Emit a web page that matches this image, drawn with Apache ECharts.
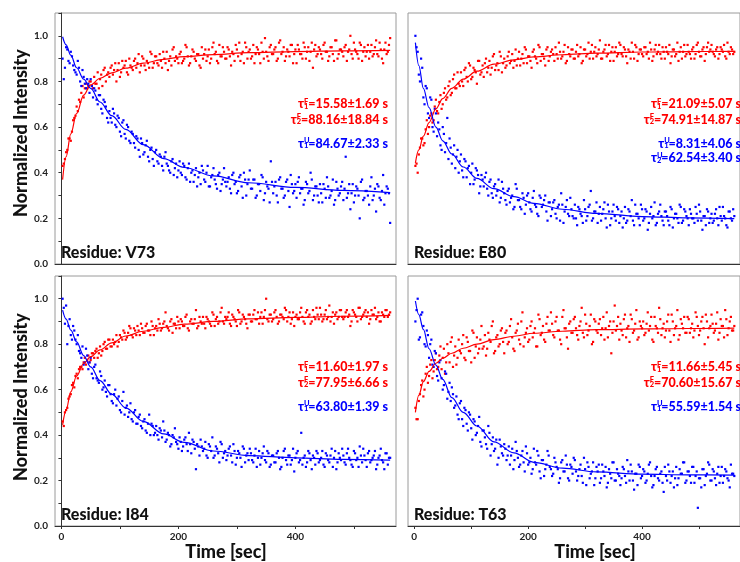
<!DOCTYPE html>
<html>
<head>
<meta charset="utf-8">
<script src="https://cdn.jsdelivr.net/npm/echarts@6/dist/echarts.min.js"></script>
<style>html,body{margin:0;padding:0;background:#fff}#chart{width:740px;height:562px}</style>
</head>
<body>
<div id="chart"></div>
<script>
const FONT = 'Lato, "Noto Sans", sans-serif';
const RED = '#ff0000';
const BLUE = '#0000ff';

// sample times of the measured points (sec), two interleaved sets
const times = [
  2,6,10,14,18,22,26,30,34,38,
  42,46,50,54,58,62,66,70,74,78,
  82,86,90,94,98,102,106,110,114,118,
  122,126,130,134,138,142,146,150,154,158,
  162,166,170,174,178,182,186,190,194,198,
  202,206,210,214,218,222,226,230,234,238,
  242,246,250,254,258,262,266,270,274,278,
  282,286,290,294,298,302,306,310,314,318,
  322,326,330,334,338,342,346,350,354,358,
  362,366,370,374,378,382,386,390,394,398,
  402,406,410,414,418,422,426,430,434,438,
  442,446,450,454,458,462,466,470,474,478,
  482,486,490,494,498,502,506,510,514,518,
  522,526,530,534,538,542,546,550,554,558,
  562
];
const timesB = [
  4,8,12,16,20,24,28,32,36,40,
  44,48,52,56,60,64,68,72,76,80,
  84,88,92,96,100,104,108,112,116,120,
  124,128,132,136,140,144,148,152,156,160,
  164,168,172,176,180,184,188,192,196,200,
  204,208,212,216,220,224,228,232,236,240,
  244,248,252,256,260,264,268,272,276,280,
  284,288,292,296,300,304,308,312,316,320,
  324,328,332,336,340,344,348,352,356,360,
  364,368,372,376,380,384,388,392,396,400,
  404,408,412,416,420,424,428,432,436,440,
  444,448,452,456,460,464,468,472,476,480,
  484,488,492,496,500,504,508,512,516,520,
  524,528,532,536,540,544,548,552,556,560
];
// times where the fitted curves are read
const fitTimes = [2, 8, 16, 26, 38, 50, 66, 86, 110, 140, 175, 210, 260, 320, 400, 480, 562];

const residues = ['Residue: V73', 'Residue: E80', 'Residue: I84', 'Residue: T63'];
const xLabelValues = [0, 200, 400];
const xTickValues = [0, 100, 200, 300, 400, 500];
const yLabelValues = [0, 0.2, 0.4, 0.6, 0.8, 1.0];
const yTickValues = [0, 0.1, 0.2, 0.3, 0.4, 0.5, 0.6, 0.7, 0.8, 0.9, 1.0, 1.1];

// V73
const v73F = [
  0.43,0.46,0.50,0.55,0.58,0.64,0.69,0.72,0.75,0.73,
  0.79,0.78,0.80,0.77,0.79,0.84,0.81,0.78,0.86,0.83,
  0.82,0.87,0.85,0.80,0.88,0.84,0.86,0.89,0.83,0.87,
  0.85,0.90,0.88,0.84,0.91,0.87,0.89,0.86,0.92,0.88,
  0.91,0.87,0.89,0.93,0.88,0.85,0.91,0.94,0.89,0.90,
  0.92,0.88,0.90,0.95,0.87,0.91,0.93,0.89,0.92,0.86,
  0.90,0.94,0.91,0.88,0.95,0.92,0.89,0.96,0.91,0.93,
  0.90,0.94,0.87,0.92,0.96,0.91,0.89,0.93,0.97,0.90,
  0.94,0.91,0.88,0.95,0.92,0.97,0.90,0.93,0.89,0.96,
  0.92,0.95,0.90,0.98,0.93,0.89,0.94,0.91,0.96,0.92,
  0.88,0.94,0.92,0.97,0.90,0.95,0.93,0.86,0.96,0.92,
  0.94,0.90,0.97,0.93,0.91,0.95,0.89,0.98,0.92,0.94,
  0.91,0.96,0.93,1.00,0.90,0.94,0.92,0.97,0.89,0.95,
  0.93,0.90,0.96,0.92,0.98,0.91,0.94,0.88,0.97,0.93,
  0.99
];
const v73FB = [
  0.44,0.49,0.55,0.54,0.63,0.65,0.67,0.71,0.78,0.77,
  0.77,0.80,0.78,0.82,0.79,0.77,0.83,0.85,0.80,0.84,
  0.86,0.83,0.88,0.85,0.82,0.89,0.87,0.84,0.90,0.86,
  0.89,0.86,0.92,0.87,0.90,0.85,0.88,0.93,0.86,0.91,
  0.88,0.92,0.86,0.90,0.93,0.89,0.87,0.95,0.91,0.88,
  0.93,0.89,0.96,0.91,0.88,0.94,0.90,0.92,0.87,0.95,
  0.92,0.89,0.94,0.90,0.97,0.93,0.88,0.91,0.95,0.90,
  0.95,0.91,0.93,0.89,0.94,0.97,0.92,0.88,0.95,0.93,
  0.90,0.96,0.92,0.94,0.88,0.93,0.99,0.91,0.95,0.92,
  0.94,0.89,0.97,0.92,0.95,0.91,0.93,0.96,0.88,0.94,
  0.96,0.92,0.90,0.95,0.93,0.89,0.97,0.94,0.91,0.95,
  0.92,0.96,0.93,0.89,0.95,0.92,0.98,0.90,0.94,0.93,
  0.95,0.89,0.94,0.92,0.97,0.93,0.90,0.96,0.93,0.91,
  0.96,0.93,0.91,0.95,0.92,0.97,0.90,0.94,0.92,0.96
];
const v73U = [
  0.90,0.86,0.94,0.88,0.91,0.85,0.83,0.86,0.78,0.82,
  0.77,0.79,0.81,0.73,0.76,0.70,0.74,0.66,0.71,0.64,
  0.67,0.62,0.66,0.60,0.64,0.56,0.63,0.55,0.60,0.53,
  0.57,0.51,0.55,0.47,0.53,0.49,0.54,0.45,0.51,0.43,
  0.50,0.44,0.47,0.41,0.49,0.43,0.40,0.46,0.42,0.38,
  0.45,0.39,0.43,0.37,0.44,0.40,0.36,0.42,0.38,0.35,
  0.41,0.36,0.43,0.34,0.39,0.37,0.33,0.40,0.35,0.42,
  0.34,0.38,0.31,0.40,0.36,0.32,0.39,0.29,0.37,0.35,
  0.41,0.33,0.37,0.30,0.35,0.39,0.28,0.36,0.33,0.45,
  0.31,0.36,0.27,0.38,0.33,0.30,0.37,0.25,0.35,0.32,
  0.29,0.38,0.33,0.26,0.36,0.31,0.40,0.28,0.34,0.30,
  0.35,0.27,0.33,0.38,0.29,0.32,0.26,0.36,0.30,0.34,
  0.28,0.47,0.31,0.24,0.35,0.30,0.33,0.20,0.37,0.29,
  0.32,0.26,0.38,0.30,0.23,0.34,0.28,0.39,0.31,0.33,
  0.18
];
const v73UB = [
  0.81,0.95,0.89,0.93,0.87,0.84,0.89,0.80,0.85,0.79,
  0.81,0.75,0.78,0.77,0.72,0.74,0.68,0.72,0.69,0.62,
  0.64,0.68,0.61,0.65,0.58,0.62,0.57,0.61,0.54,0.58,
  0.53,0.56,0.50,0.55,0.48,0.52,0.47,0.50,0.46,0.49,
  0.45,0.48,0.43,0.47,0.44,0.41,0.45,0.39,0.44,0.41,
  0.40,0.44,0.38,0.42,0.36,0.41,0.39,0.34,0.40,0.43,
  0.37,0.40,0.34,0.38,0.42,0.35,0.39,0.32,0.37,0.36,
  0.36,0.33,0.39,0.35,0.31,0.38,0.34,0.40,0.30,0.37,
  0.33,0.37,0.29,0.35,0.32,0.38,0.31,0.34,0.27,0.36,
  0.34,0.30,0.37,0.33,0.29,0.36,0.32,0.39,0.31,0.35,
  0.36,0.31,0.33,0.28,0.35,0.32,0.37,0.30,0.34,0.27,
  0.31,0.35,0.29,0.34,0.30,0.37,0.28,0.33,0.31,0.36,
  0.33,0.29,0.35,0.31,0.27,0.34,0.30,0.36,0.28,0.32,
  0.30,0.34,0.28,0.33,0.35,0.29,0.32,0.26,0.34,0.31
];
const v73FitF = [0.37,0.47,0.57,0.66,0.74,0.785,0.814,0.838,0.858,0.88,0.897,0.909,0.918,0.926,0.931,0.934,0.936];
const v73FitU = [0.996,0.96,0.915,0.86,0.81,0.77,0.71,0.65,0.59,0.523,0.462,0.423,0.386,0.356,0.336,0.323,0.313];

// E80
const e80F = [
  0.43,0.40,0.51,0.55,0.53,0.63,0.60,0.66,0.63,0.72,
  0.66,0.74,0.70,0.77,0.73,0.80,0.75,0.83,0.77,0.79,
  0.84,0.78,0.86,0.80,0.87,0.82,0.85,0.79,0.89,0.84,
  0.82,0.90,0.86,0.83,0.91,0.85,0.88,0.93,0.84,0.90,
  0.87,0.93,0.89,0.86,0.94,0.90,0.87,0.92,0.95,0.88,
  0.91,0.86,0.94,0.90,0.96,0.89,0.92,0.87,0.95,0.91,
  0.94,0.89,0.92,0.97,0.90,0.93,0.88,0.95,0.91,0.94,
  0.90,0.96,0.92,0.88,0.94,0.91,0.97,0.93,0.90,0.95,
  0.92,0.98,0.90,0.94,0.91,0.96,0.93,0.89,0.95,0.92,
  0.96,0.91,0.94,0.88,0.93,0.97,0.90,0.95,0.92,0.94,
  0.91,0.95,0.93,0.97,0.89,0.94,0.92,0.96,0.90,0.93,
  0.95,0.92,0.88,0.94,0.91,0.97,0.93,0.90,0.96,0.92,
  0.93,0.90,0.95,0.92,0.97,0.91,0.94,0.89,0.95,0.93,
  0.96,0.92,0.94,0.90,0.95,0.93,0.91,0.97,0.92,0.94,
  0.93
];
const e80FB = [
  0.44,0.48,0.55,0.52,0.59,0.57,0.65,0.62,0.69,0.67,
  0.71,0.68,0.75,0.72,0.78,0.74,0.81,0.77,0.84,0.78,
  0.80,0.85,0.82,0.88,0.81,0.86,0.84,0.89,0.83,0.87,
  0.88,0.84,0.89,0.86,0.92,0.87,0.85,0.91,0.88,0.86,
  0.91,0.88,0.92,0.89,0.87,0.93,0.90,0.88,0.94,0.91,
  0.89,0.93,0.91,0.88,0.95,0.92,0.90,0.94,0.89,0.93,
  0.92,0.95,0.90,0.93,0.91,0.96,0.89,0.92,0.94,0.90,
  0.93,0.91,0.95,0.89,0.94,0.92,0.90,0.96,0.93,0.91,
  0.94,0.90,0.93,0.96,0.92,0.89,0.95,0.93,0.91,0.97,
  0.92,0.95,0.91,0.94,0.90,0.93,0.96,0.89,0.94,0.92,
  0.95,0.92,0.90,0.94,0.91,0.96,0.93,0.92,0.95,0.90,
  0.93,0.96,0.91,0.94,0.92,0.89,0.95,0.93,0.91,0.96,
  0.92,0.94,0.90,0.96,0.93,0.91,0.95,0.92,0.97,0.94,
  0.93,0.91,0.95,0.92,0.94,0.96,0.90,0.93,0.95,0.92
];
const e80U = [
  1.00,0.93,0.80,0.86,0.70,0.77,0.64,0.72,0.58,0.66,
  0.62,0.52,0.60,0.49,0.64,0.55,0.44,0.52,0.47,0.40,
  0.48,0.38,0.45,0.42,0.35,0.44,0.37,0.41,0.31,0.39,
  0.34,0.40,0.30,0.37,0.29,0.35,0.32,0.27,0.36,0.31,
  0.26,0.33,0.29,0.24,0.35,0.28,0.25,0.31,0.22,0.30,
  0.27,0.23,0.32,0.25,0.21,0.29,0.26,0.30,0.19,0.27,
  0.24,0.28,0.20,0.26,0.31,0.18,0.25,0.22,0.29,0.21,
  0.26,0.17,0.24,0.21,0.28,0.19,0.25,0.32,0.20,0.23,
  0.18,0.25,0.22,0.27,0.16,0.23,0.20,0.26,0.19,0.24,
  0.21,0.16,0.25,0.19,0.23,0.28,0.17,0.22,0.20,0.26,
  0.19,0.24,0.15,0.22,0.20,0.27,0.18,0.23,0.21,0.17,
  0.23,0.19,0.25,0.16,0.22,0.20,0.26,0.18,0.24,0.21,
  0.17,0.22,0.20,0.25,0.19,0.23,0.15,0.21,0.24,0.18,
  0.22,0.19,0.24,0.17,0.21,0.25,0.20,0.16,0.23,0.19,
  0.21
];
const e80UB = [
  0.95,0.83,0.90,0.73,0.78,0.66,0.73,0.60,0.68,0.56,
  0.59,0.50,0.57,0.53,0.46,0.51,0.48,0.42,0.50,0.45,
  0.41,0.46,0.38,0.43,0.40,0.35,0.42,0.39,0.34,0.37,
  0.38,0.33,0.36,0.31,0.34,0.30,0.37,0.29,0.33,0.28,
  0.32,0.27,0.30,0.25,0.33,0.28,0.24,0.29,0.26,0.31,
  0.24,0.29,0.26,0.22,0.30,0.25,0.28,0.23,0.27,0.21,
  0.27,0.22,0.25,0.19,0.26,0.23,0.28,0.21,0.24,0.20,
  0.20,0.25,0.22,0.18,0.24,0.21,0.26,0.19,0.23,0.27,
  0.22,0.19,0.24,0.20,0.26,0.17,0.23,0.21,0.25,0.18,
  0.23,0.20,0.18,0.24,0.21,0.19,0.26,0.22,0.17,0.24,
  0.20,0.23,0.18,0.25,0.21,0.17,0.22,0.26,0.19,0.23,
  0.21,0.17,0.24,0.20,0.22,0.18,0.25,0.19,0.23,0.20,
  0.24,0.20,0.18,0.22,0.26,0.19,0.21,0.17,0.23,0.20,
  0.18,0.22,0.20,0.25,0.19,0.21,0.17,0.23,0.20,0.24
];
const e80FitF = [0.443,0.50,0.56,0.62,0.68,0.725,0.77,0.81,0.845,0.876,0.895,0.908,0.917,0.924,0.929,0.931,0.932];
const e80FitU = [0.97,0.87,0.77,0.685,0.60,0.54,0.482,0.425,0.375,0.33,0.295,0.266,0.24,0.222,0.208,0.202,0.199];

// I84
const i84F = [
  0.46,0.50,0.52,0.57,0.62,0.61,0.67,0.69,0.70,0.72,
  0.71,0.75,0.73,0.76,0.77,0.74,0.79,0.77,0.81,0.78,
  0.82,0.79,0.80,0.84,0.81,0.83,0.86,0.82,0.85,0.87,
  0.83,0.86,0.88,0.84,0.87,0.85,0.89,0.86,0.90,0.84,
  0.88,0.91,0.86,0.89,0.94,0.87,0.90,0.85,0.89,0.92,
  0.87,0.90,0.88,0.93,0.86,0.91,0.89,0.95,0.88,0.90,
  0.92,0.87,0.91,0.89,0.94,0.88,0.92,0.90,0.96,0.89,
  0.91,0.94,0.88,0.92,0.90,0.95,0.89,0.93,0.91,0.87,
  0.93,0.90,0.95,0.91,0.89,0.94,0.92,1.00,0.90,0.93,
  0.91,0.95,0.89,0.93,0.92,0.96,0.90,0.94,0.91,0.88,
  0.93,0.91,0.96,0.90,0.94,0.92,0.89,0.95,0.91,0.93,
  0.96,0.90,0.93,0.91,0.97,0.92,0.89,0.94,0.92,0.95,
  0.91,0.94,0.92,0.88,0.95,0.93,0.90,0.96,0.92,0.94,
  0.92,0.89,0.95,0.93,0.91,0.94,0.90,0.93,0.95,0.92,
  0.94
];
const i84FB = [
  0.44,0.51,0.56,0.58,0.63,0.66,0.65,0.70,0.69,0.74,
  0.73,0.72,0.76,0.74,0.78,0.76,0.75,0.80,0.78,0.82,
  0.79,0.82,0.81,0.79,0.84,0.82,0.85,0.83,0.88,0.84,
  0.87,0.84,0.86,0.89,0.85,0.88,0.86,0.84,0.88,0.87,
  0.86,0.89,0.87,0.90,0.88,0.86,0.91,0.89,0.87,0.90,
  0.91,0.88,0.92,0.87,0.90,0.89,0.91,0.87,0.92,0.89,
  0.89,0.92,0.90,0.88,0.93,0.91,0.89,0.94,0.90,0.92,
  0.92,0.89,0.93,0.91,0.88,0.94,0.90,0.92,0.89,0.93,
  0.90,0.93,0.91,0.94,0.92,0.89,0.95,0.91,0.93,0.90,
  0.94,0.92,0.90,0.93,0.91,0.95,0.92,0.89,0.94,0.92,
  0.91,0.94,0.92,0.89,0.95,0.93,0.90,0.92,0.96,0.91,
  0.93,0.91,0.95,0.92,0.90,0.94,0.93,0.91,0.95,0.92,
  0.92,0.95,0.93,0.90,0.94,0.92,0.96,0.91,0.93,0.95,
  0.94,0.91,0.93,0.96,0.92,0.90,0.94,0.92,0.95,0.93
];
const i84U = [
  1.00,0.89,0.80,0.91,0.82,0.86,0.80,0.77,0.74,0.71,
  0.78,0.69,0.74,0.65,0.71,0.64,0.68,0.60,0.64,0.57,
  0.62,0.55,0.58,0.53,0.57,0.50,0.59,0.52,0.48,0.54,
  0.46,0.51,0.45,0.49,0.43,0.47,0.41,0.49,0.45,0.40,
  0.44,0.38,0.42,0.46,0.37,0.41,0.35,0.40,0.43,0.36,
  0.39,0.33,0.38,0.36,0.41,0.32,0.37,0.25,0.35,0.38,
  0.33,0.37,0.30,0.35,0.39,0.31,0.34,0.28,0.36,0.32,
  0.29,0.34,0.31,0.36,0.27,0.33,0.30,0.35,0.28,0.32,
  0.34,0.29,0.31,0.26,0.33,0.30,0.35,0.28,0.32,0.27,
  0.31,0.28,0.33,0.25,0.30,0.34,0.27,0.31,0.29,0.24,
  0.32,0.28,0.41,0.30,0.26,0.33,0.29,0.31,0.27,0.32,
  0.29,0.33,0.26,0.31,0.28,0.34,0.30,0.25,0.32,0.29,
  0.31,0.27,0.34,0.29,0.26,0.32,0.30,0.35,0.28,0.31,
  0.26,0.33,0.29,0.31,0.25,0.30,0.34,0.28,0.32,0.27,
  0.30
];
const i84UB = [
  0.96,0.97,0.88,0.84,0.88,0.82,0.84,0.76,0.79,0.72,
  0.75,0.72,0.67,0.70,0.65,0.63,0.66,0.61,0.59,0.62,
  0.58,0.54,0.60,0.56,0.51,0.55,0.49,0.53,0.50,0.47,
  0.50,0.45,0.48,0.44,0.46,0.42,0.45,0.40,0.44,0.41,
  0.40,0.43,0.39,0.42,0.38,0.40,0.36,0.39,0.37,0.34,
  0.37,0.35,0.39,0.33,0.36,0.38,0.34,0.36,0.31,0.35,
  0.34,0.31,0.36,0.33,0.30,0.35,0.32,0.37,0.30,0.33,
  0.31,0.35,0.28,0.33,0.30,0.32,0.26,0.34,0.31,0.29,
  0.32,0.28,0.34,0.30,0.27,0.32,0.29,0.33,0.26,0.31,
  0.28,0.32,0.30,0.26,0.33,0.29,0.31,0.27,0.34,0.30,
  0.33,0.29,0.27,0.31,0.28,0.32,0.25,0.30,0.33,0.28,
  0.30,0.27,0.32,0.29,0.31,0.26,0.33,0.28,0.30,0.34,
  0.28,0.32,0.30,0.27,0.33,0.29,0.26,0.31,0.34,0.29,
  0.32,0.28,0.30,0.33,0.27,0.31,0.29,0.25,0.32,0.30
];
const i84FitF = [0.445,0.51,0.59,0.66,0.715,0.745,0.775,0.806,0.836,0.857,0.874,0.888,0.90,0.911,0.918,0.923,0.927];
const i84FitU = [0.95,0.91,0.862,0.81,0.75,0.70,0.64,0.58,0.52,0.46,0.405,0.368,0.33,0.31,0.30,0.293,0.29];

// T63
const t63F = [
  0.52,0.47,0.58,0.64,0.60,0.70,0.66,0.73,0.68,0.76,
  0.70,0.79,0.74,0.67,0.80,0.72,0.83,0.75,0.71,0.82,
  0.76,0.84,0.73,0.81,0.77,0.86,0.74,0.83,0.78,0.88,
  0.79,0.75,0.85,0.81,0.90,0.77,0.84,0.80,0.87,0.76,
  0.86,0.81,0.91,0.78,0.85,0.89,0.80,0.94,0.83,0.87,
  0.82,0.90,0.85,0.79,0.93,0.84,0.88,0.81,0.92,0.86,
  0.89,0.83,0.92,0.86,0.80,0.95,0.87,0.78,0.90,0.85,
  0.92,0.84,0.88,0.96,0.83,0.89,0.86,0.93,0.81,0.90,
  0.85,0.91,0.87,0.82,0.94,0.88,0.76,0.90,0.86,0.92,
  0.89,0.84,0.93,0.87,0.81,0.91,0.86,0.95,0.83,0.88,
  0.90,0.85,0.94,0.88,0.82,0.92,0.87,0.96,0.84,0.89,
  0.86,0.93,0.81,0.90,0.87,0.95,0.84,0.89,0.92,0.85,
  0.91,0.87,0.83,0.94,0.88,0.86,0.92,0.80,0.90,0.87,
  0.93,0.85,0.89,0.82,0.91,0.88,0.95,0.84,0.90,0.86,
  0.88
];
const t63FB = [
  0.47,0.55,0.62,0.57,0.67,0.63,0.71,0.65,0.73,0.69,
  0.75,0.69,0.78,0.72,0.76,0.81,0.70,0.79,0.74,0.77,
  0.80,0.74,0.83,0.77,0.72,0.85,0.79,0.76,0.82,0.78,
  0.84,0.78,0.82,0.88,0.76,0.83,0.79,0.86,0.81,0.85,
  0.80,0.88,0.83,0.77,0.86,0.82,0.90,0.79,0.85,0.81,
  0.88,0.83,0.87,0.79,0.91,0.85,0.82,0.89,0.86,0.94,
  0.84,0.90,0.86,0.82,0.92,0.87,0.83,0.89,0.85,0.91,
  0.87,0.82,0.90,0.85,0.93,0.84,0.88,0.80,0.91,0.86,
  0.89,0.84,0.92,0.87,0.83,0.90,0.85,0.97,0.88,0.82,
  0.86,0.91,0.83,0.88,0.93,0.85,0.89,0.82,0.90,0.87,
  0.84,0.89,0.86,0.92,0.81,0.88,0.85,0.91,0.87,0.83,
  0.90,0.86,0.93,0.84,0.88,0.82,0.91,0.87,0.85,0.92,
  0.85,0.89,0.86,0.92,0.84,0.90,0.87,0.93,0.83,0.88,
  0.89,0.86,0.94,0.85,0.88,0.83,0.91,0.87,0.92,0.86
];
const t63U = [
  0.90,1.00,0.83,0.94,0.80,0.86,0.74,0.82,0.70,0.76,
  0.64,0.73,0.60,0.68,0.56,0.63,0.61,0.52,0.57,0.47,
  0.55,0.44,0.51,0.42,0.49,0.38,0.46,0.41,0.48,0.35,
  0.42,0.36,0.44,0.31,0.39,0.34,0.27,0.38,0.32,0.36,
  0.29,0.35,0.31,0.25,0.37,0.30,0.27,0.33,0.24,0.32,
  0.28,0.23,0.34,0.27,0.31,0.21,0.29,0.25,0.33,0.26,
  0.22,0.30,0.26,0.19,0.28,0.24,0.31,0.21,0.27,0.23,
  0.29,0.20,0.25,0.22,0.30,0.18,0.26,0.23,0.28,0.21,
  0.24,0.19,0.27,0.22,0.17,0.25,0.21,0.28,0.20,0.23,
  0.18,0.26,0.22,0.29,0.20,0.24,0.16,0.23,0.27,0.21,
  0.25,0.19,0.23,0.28,0.17,0.22,0.26,0.20,0.24,0.15,
  0.22,0.27,0.19,0.24,0.21,0.18,0.25,0.23,0.28,0.20,
  0.24,0.19,0.26,0.22,0.08,0.21,0.25,0.18,0.23,0.27,
  0.20,0.24,0.18,0.26,0.22,0.19,0.25,0.21,0.17,0.23,
  0.22
];
const t63UB = [
  0.95,0.82,0.93,0.88,0.79,0.84,0.80,0.71,0.77,0.66,
  0.72,0.65,0.62,0.67,0.59,0.55,0.58,0.53,0.49,0.54,
  0.47,0.52,0.45,0.50,0.43,0.47,0.40,0.44,0.37,0.42,
  0.39,0.34,0.41,0.36,0.33,0.38,0.30,0.35,0.31,0.34,
  0.31,0.27,0.34,0.29,0.33,0.26,0.31,0.28,0.35,0.27,
  0.30,0.25,0.28,0.33,0.24,0.29,0.22,0.27,0.31,0.25,
  0.23,0.28,0.25,0.21,0.29,0.24,0.27,0.20,0.26,0.30,
  0.24,0.22,0.27,0.19,0.25,0.28,0.21,0.24,0.18,0.26,
  0.27,0.21,0.24,0.26,0.19,0.23,0.28,0.20,0.25,0.22,
  0.21,0.25,0.19,0.24,0.27,0.20,0.23,0.18,0.26,0.22,
  0.24,0.20,0.27,0.22,0.18,0.25,0.21,0.23,0.19,0.26,
  0.20,0.24,0.22,0.17,0.26,0.21,0.23,0.28,0.19,0.24,
  0.22,0.26,0.19,0.24,0.21,0.17,0.25,0.22,0.28,0.20,
  0.25,0.21,0.23,0.19,0.26,0.22,0.24,0.20,0.27,0.23
];
const t63FitF = [0.50,0.575,0.635,0.68,0.716,0.738,0.76,0.782,0.80,0.82,0.835,0.848,0.857,0.864,0.867,0.869,0.871];
const t63FitU = [0.99,0.93,0.865,0.78,0.708,0.645,0.565,0.50,0.44,0.37,0.322,0.28,0.255,0.238,0.228,0.225,0.224];

// fitted time constants: [superscript, subscript, value]
const tauF = [
  [['F', '1', '=15.58±1.69 s'], ['F', '2', '=88.16±18.84 s']],
  [['F', '1', '=21.09±5.07 s'], ['F', '2', '=74.91±14.87 s']],
  [['F', '1', '=11.60±1.97 s'], ['F', '2', '=77.95±6.66 s']],
  [['F', '1', '=11.66±5.45 s'], ['F', '2', '=70.60±15.67 s']]
];
const tauU = [
  [['U', '1', '=84.67±2.33 s']],
  [['U', '1', '=8.31±4.06 s'], ['U', '2', '=62.54±3.40 s']],
  [['U', '1', '=63.80±1.39 s']],
  [['U', '1', '=55.59±1.54 s']]
];

const foldedSets = [[v73F, v73FB], [e80F, e80FB], [i84F, i84FB], [t63F, t63FB]];
const unfoldedSets = [[v73U, v73UB], [e80U, e80UB], [i84U, i84UB], [t63U, t63UB]];
const fitFSets = [v73FitF, e80FitF, i84FitF, t63FitF];
const fitUSets = [v73FitU, e80FitU, i84FitU, t63FitU];

const panels = [
  { left: 55, top: 13, height: 251 },
  { left: 408, top: 13, height: 251 },
  { left: 55, top: 276, height: 250 },
  { left: 408, top: 276, height: 250 }
];
const PW = 341;

const chart = echarts.init(document.getElementById('chart'), null, { renderer: 'canvas' });

const grids = panels.map(p => ({
  left: p.left, top: p.top, width: PW, height: p.height,
  show: true, borderColor: '#9a9a9a', borderWidth: 1, backgroundColor: 'transparent'
}));

const xAxes = panels.map((p, i) => ({
  type: 'value', gridIndex: i, min: -11, max: 572,
  axisLine: { show: true, onZero: false, lineStyle: { color: '#333', width: 1 } },
  axisTick: { show: i >= 2, customValues: xTickValues, length: 3, lineStyle: { color: '#333' } },
  axisLabel: {
    show: i >= 2, customValues: xLabelValues, fontSize: 10, fontWeight: 'bold',
    color: '#222', fontFamily: FONT, margin: 6
  },
  splitLine: { show: false }
}));

const yAxes = panels.map((p, i) => {
  const isLeft = i % 2 === 0;
  return {
    type: 'value', gridIndex: i, min: 0, max: 1.1,
    axisLine: { show: isLeft, lineStyle: { color: '#333', width: 1 } },
    axisTick: { show: isLeft, customValues: yTickValues, length: 3, lineStyle: { color: '#333' } },
    axisLabel: {
      show: isLeft, customValues: yLabelValues, fontSize: 10, fontWeight: 'bold',
      color: '#222', fontFamily: FONT, margin: 7,
      formatter: v => v.toFixed(1)
    },
    splitLine: { show: false }
  };
});

function points(pair) {
  return times.map((t, k) => [t, pair[0][k]]).concat(timesB.map((t, k) => [t, pair[1][k]]));
}

const series = [];
panels.forEach((p, i) => {
  [[foldedSets[i], RED], [unfoldedSets[i], BLUE]].forEach(([pair, color]) => {
    series.push({
      type: 'scatter', xAxisIndex: i, yAxisIndex: i,
      data: points(pair),
      symbol: 'rect', symbolSize: 2.2,
      itemStyle: { color: color, opacity: 1 },
      silent: true, animation: false
    });
  });
  [[fitFSets[i], RED], [fitUSets[i], BLUE]].forEach(([vals, color]) => {
    series.push({
      type: 'line', xAxisIndex: i, yAxisIndex: i,
      data: fitTimes.map((t, k) => [t, vals[k]]),
      smooth: 0.35, smoothMonotone: 'x', showSymbol: false,
      lineStyle: { color: color, width: 1.2 },
      z: 3, silent: true, animation: false
    });
  });
});

const tauRich = {
  b: { fontSize: 12.5, fontWeight: 900, fontFamily: FONT, align: 'left' },
  sup: { fontSize: 7.5, fontWeight: 900, fontFamily: FONT, width: 0, align: 'left', verticalAlign: 'top' },
  sub: { fontSize: 7.5, fontWeight: 900, fontFamily: FONT, align: 'left', verticalAlign: 'bottom' }
};
function tauLine(item) {
  return '{b|τ}{sup|' + item[0] + '}{sub|' + item[1] + '}{b|' + item[2] + '}';
}

const graphics = [];
panels.forEach((p, i) => {
  const right = p.left + PW - 8;
  const redY = [p.top + 91, p.top + 106.5];
  const blueY = [p.top + 130.5, p.top + 145];
  tauF[i].forEach((item, k) => graphics.push({
    type: 'text', x: right, y: redY[k], silent: true,
    style: { text: tauLine(item), rich: tauRich, fill: RED, align: 'right', verticalAlign: 'middle' }
  }));
  tauU[i].forEach((item, k) => graphics.push({
    type: 'text', x: right, y: blueY[k], silent: true,
    style: { text: tauLine(item), rich: tauRich, fill: BLUE, align: 'right', verticalAlign: 'middle' }
  }));
  graphics.push({
    type: 'text', x: p.left + 6, y: p.top + p.height - 11, silent: true,
    style: {
      text: residues[i], fill: '#111', align: 'left', verticalAlign: 'middle',
      font: '900 16px ' + FONT
    }
  });
});
// axis titles
[133, 397].forEach(cy => graphics.push({
  type: 'text', x: 21, y: cy, rotation: Math.PI / 2, silent: true,
  style: { text: 'Normalized Intensity', fill: '#111', align: 'center', verticalAlign: 'middle', font: '900 18px ' + FONT }
}));
[226, 595].forEach(cx => graphics.push({
  type: 'text', x: cx, y: 552, silent: true,
  style: { text: 'Time [sec]', fill: '#111', align: 'center', verticalAlign: 'middle', font: '900 18px ' + FONT }
}));

chart.setOption({
  animation: false,
  backgroundColor: '#fff',
  textStyle: { fontFamily: FONT },
  grid: grids,
  xAxis: xAxes,
  yAxis: yAxes,
  series: series,
  graphic: graphics
});
</script>
</body>
</html>
